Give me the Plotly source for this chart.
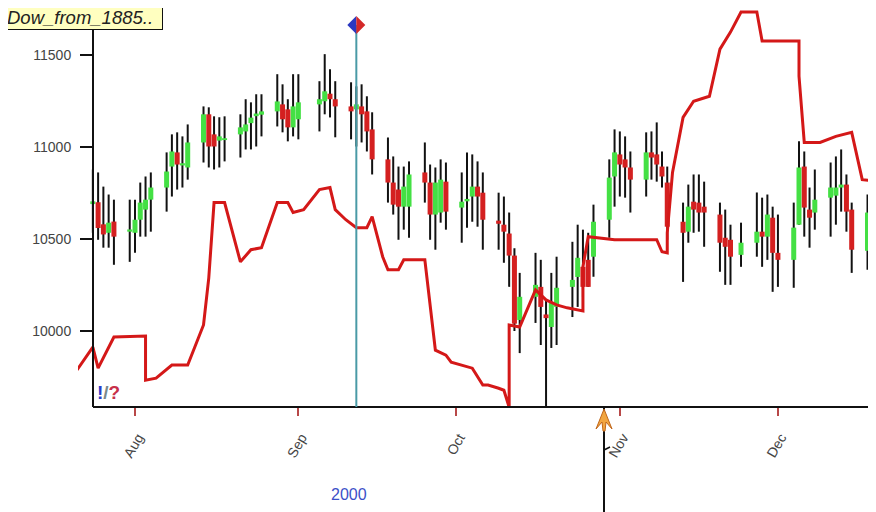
import plotly.graph_objects as go

# ---------------- data ----------------
dates = ["2000-07-24", "2000-07-25", "2000-07-26", "2000-07-27", "2000-07-28", "2000-07-31",
         "2000-08-01", "2000-08-02", "2000-08-03", "2000-08-04", "2000-08-07", "2000-08-08",
         "2000-08-09", "2000-08-10", "2000-08-11", "2000-08-14", "2000-08-15", "2000-08-16",
         "2000-08-17", "2000-08-18", "2000-08-21", "2000-08-22", "2000-08-23", "2000-08-24",
         "2000-08-25", "2000-08-28", "2000-08-29", "2000-08-30", "2000-08-31",
         "2000-09-01", "2000-09-05", "2000-09-06", "2000-09-07", "2000-09-08", "2000-09-11",
         "2000-09-12", "2000-09-13", "2000-09-14", "2000-09-15", "2000-09-18", "2000-09-19",
         "2000-09-20", "2000-09-21", "2000-09-22", "2000-09-25", "2000-09-26", "2000-09-27",
         "2000-09-28", "2000-09-29",
         "2000-10-02", "2000-10-03", "2000-10-04", "2000-10-05", "2000-10-06", "2000-10-09",
         "2000-10-10", "2000-10-11", "2000-10-12", "2000-10-13", "2000-10-16", "2000-10-17",
         "2000-10-18", "2000-10-19", "2000-10-20", "2000-10-23", "2000-10-24", "2000-10-25",
         "2000-10-26", "2000-10-27", "2000-10-30", "2000-10-31",
         "2000-11-01", "2000-11-02", "2000-11-03", "2000-11-06", "2000-11-07", "2000-11-08",
         "2000-11-09", "2000-11-10", "2000-11-13", "2000-11-14", "2000-11-15", "2000-11-16",
         "2000-11-17", "2000-11-20", "2000-11-21", "2000-11-22", "2000-11-24", "2000-11-27",
         "2000-11-28", "2000-11-29", "2000-11-30",
         "2000-12-01", "2000-12-04", "2000-12-05", "2000-12-06", "2000-12-07", "2000-12-08",
         "2000-12-11", "2000-12-12", "2000-12-13", "2000-12-14", "2000-12-15", "2000-12-18",
         "2000-12-19"]

opens = [10690, 10700, 10580, 10534, 10595, 10540,
         10534, 10605, 10660, 10714, 10780, 10894,
         10971, 10900, 10889, 11025, 11178, 11069,
         11035, 11038, 11069, 11085, 11130, 11168,
         11176, 11194, 11232, 11205, 11107,
         11151, 11232, 11249, 11290, 11260, 11221,
         11205, 11221, 11194, 11096, 10933, 10807,
         10769, 10676, 10676, 10862, 10807, 10633,
         10644, 10812,
         10671, 10705, 10731, 10785, 10752, 10600,
         10578, 10530, 10410, 10060, 10186, 10240,
         10090, 10022, 10131, 10240, 10294, 10349,
         10387, 10404, 10605, 10840,
         10960, 10933, 10889, 10823, 10971, 10960,
         10894, 10807, 10594, 10540, 10703, 10698,
         10676, 10633, 10507, 10496, 10414, 10480,
         10540, 10513, 10616,
         10425, 10387, 10578, 10894, 10660, 10644,
         10725, 10736, 10780, 10796, 10660, 10436,
         10644]

highs = [10878, 10862, 10785, 10742, 10714, 10714,
         10714, 10807, 10840, 10862, 10971, 11069,
         11080, 11058, 11123, 11221, 11216, 11167,
         11162, 11167, 11178, 11260, 11243, 11287,
         11287, 11396, 11341, 11260, 11396,
         11396, 11358, 11505, 11423, 11358, 11352,
         11330, 11341, 11276, 11189, 11052, 10949,
         10894, 10894, 10922, 11025, 10905, 10889,
         10933, 10916,
         10862, 10971, 10960, 10922, 10862, 10752,
         10731, 10644, 10450, 10316, 10425, 10387,
         10169, 10316, 10404, 10485, 10578, 10551,
         10534, 10687, 10933, 11096,
         11085, 11058, 10976, 11080, 11085, 11134,
         10976, 10894, 10698, 10796, 10851, 10851,
         10812, 10698, 10660, 10578, 10589, 10753,
         10725, 10742, 10676,
         10633, 10698, 11031, 10976, 10780, 10878,
         10916, 10949, 10987, 10851, 10698, 10742,
         10742]

lows = [10534, 10496, 10453, 10453, 10360, 10376,
        10425, 10513, 10513, 10540, 10649, 10731,
        10769, 10780, 10823, 10916, 10889, 10878,
        10889, 10922, 10943, 10987, 10987, 11003,
        11058, 11112, 11080, 11031, 11058,
        11042, 11085, 11178, 11161, 11053, 11042,
        11003, 11025, 10976, 10851, 10698, 10633,
        10496, 10551, 10507, 10698, 10496, 10442,
        10589, 10551,
        10480, 10562, 10594, 10567, 10442, 10442,
        10371, 10240, 10000, 9880, 10044, 9924,
        9560, 9908, 9924, 10076, 10131, 10186,
        10240, 10295, 10507, 10676,
        10731, 10725, 10644, 10731, 10823, 10812,
        10780, 10496, 10267, 10480, 10534, 10540,
        10458, 10322, 10251, 10251, 10349, 10404,
        10349, 10387, 10213,
        10240, 10235, 10578, 10513, 10453, 10551,
        10513, 10578, 10649, 10540, 10316, 10333,
        10333]

closes = [10705, 10560, 10525, 10589, 10513, 10552,
          10605, 10698, 10714, 10780, 10867, 10976,
          10905, 10912, 11025, 11178, 11003, 11003,
          11058, 11048, 11107, 11123, 11160, 11182,
          11194, 11248, 11151, 11107, 11221,
          11243, 11260, 11303, 11260, 11221, 11194,
          11232, 11178, 11085, 10933, 10807, 10687,
          10676, 10785, 10851, 10807, 10633, 10807,
          10823, 10649,
          10703, 10718, 10785, 10731, 10605, 10583,
          10540, 10410, 10040, 10186, 10251, 10131,
          10070, 10153, 10235, 10278, 10398, 10240,
          10240, 10594, 10834, 10971,
          10905, 10889, 10823, 10971, 10943, 10905,
          10840, 10567, 10534, 10676, 10660, 10644,
          10644, 10480, 10458, 10404, 10480, 10540,
          10513, 10633, 10425,
          10387, 10562, 10889, 10671, 10616, 10714,
          10780, 10780, 10796, 10649, 10442, 10644,
          10442]

line_dates = ["2000-07-21", "2000-07-24", "2000-07-25", "2000-07-28", "2000-08-03", "2000-08-03",
              "2000-08-05", "2000-08-08", "2000-08-11", "2000-08-14", "2000-08-15", "2000-08-16",
              "2000-08-18", "2000-08-21", "2000-08-23", "2000-08-25", "2000-08-28", "2000-08-30",
              "2000-08-31", "2000-09-02", "2000-09-05", "2000-09-07", "2000-09-08", "2000-09-10",
              "2000-09-12", "2000-09-14", "2000-09-15", "2000-09-16", "2000-09-17", "2000-09-18",
              "2000-09-20", "2000-09-21", "2000-09-25", "2000-09-27", "2000-09-29", "2000-09-30",
              "2000-10-04", "2000-10-06", "2000-10-07", "2000-10-09", "2000-10-10", "2000-10-11",
              "2000-10-11", "2000-10-13", "2000-10-16", "2000-10-18", "2000-10-20", "2000-10-22",
              "2000-10-25", "2000-10-25", "2000-10-26", "2000-10-31", "2000-11-08", "2000-11-09",
              "2000-11-10", "2000-11-10", "2000-11-11", "2000-11-13", "2000-11-15", "2000-11-18",
              "2000-11-20", "2000-11-22", "2000-11-24", "2000-11-27", "2000-11-28", "2000-12-05",
              "2000-12-05", "2000-12-06", "2000-12-09", "2000-12-12", "2000-12-15", "2000-12-17",
              "2000-12-20"]
line_values = [9788, 9913, 9798, 9967, 9973, 9733,
               9744, 9815, 9815, 10033, 10289, 10698,
               10698, 10376, 10442, 10453, 10698, 10698,
               10644, 10660, 10769, 10780, 10660, 10605,
               10562, 10562, 10622, 10513, 10404, 10333,
               10333, 10387, 10387, 9896, 9869, 9831,
               9798, 9706, 9706, 9689, 9678, 9586,
               10033, 10022, 10224, 10169, 10142, 10126,
               10109, 10349, 10513, 10496, 10496, 10431,
               10425, 10534, 10862, 11161, 11249, 11276,
               11532, 11625, 11734, 11734, 11576, 11576,
               11385, 11025, 11025, 11058, 11080, 10823,
               10812]

month_ticks = ["2000-08-01", "2000-09-01", "2000-10-01", "2000-11-01", "2000-12-01"]
month_labels = ["Aug", "Sep", "Oct", "Nov", "Dec"]
minor_ticks = ["2000-08-10", "2000-08-20", "2000-09-10", "2000-09-20", "2000-10-10",
               "2000-10-20", "2000-11-10", "2000-11-20", "2000-12-10"]
y_ticks = [10000, 10500, 11000, 11500]
y_tick_labels = ["10000", "10500", "11000", "11500"]

marker_event_date = "2000-09-12"
line_event_date = "2000-10-29"
title_text = "Dow_from_1885.."
year_label = "2000"
year_label_date = "2000-09-10 14:00"

# ---------------- styling ----------------
X_RANGE = ["2000-07-21 04:25", "2000-12-19 14:40"]
Y_RANGE = [9587, 11745]
FONT = "Liberation Sans, Arial, sans-serif"
GREEN = "#44e044"
RED = "#d42020"

wick_x, wick_y = [], []
up_x, up_y, dn_x, dn_y = [], [], [], []
for d, o, h, l, c in zip(dates, opens, highs, lows, closes):
    wick_x += [d, d, None]
    wick_y += [l, h, None]
    if c >= o:
        up_x += [d, d, None]
        up_y += [o, c, None]
    else:
        dn_x += [d, d, None]
        dn_y += [o, c, None]

fig = go.Figure()
fig.add_trace(go.Scatter(x=wick_x, y=wick_y, mode="lines",
                         line=dict(color="#111111", width=2), hoverinfo="skip",
                         showlegend=False))
fig.add_trace(go.Scatter(x=up_x, y=up_y, mode="lines",
                         line=dict(color=GREEN, width=5), showlegend=False))
fig.add_trace(go.Scatter(x=dn_x, y=dn_y, mode="lines",
                         line=dict(color=RED, width=5), showlegend=False))
fig.add_trace(go.Scatter(x=line_dates, y=line_values, mode="lines",
                         line=dict(color="#d41818", width=3), showlegend=False))

left_frac = 15 / 798.0

fig.update_layout(
    width=868, height=504,
    margin=dict(l=70, r=0, t=2, b=105, autoexpand=False),
    paper_bgcolor="white", plot_bgcolor="white",
    showlegend=False,
    font=dict(family=FONT),
    xaxis=dict(type="date", range=X_RANGE, tickvals=month_ticks, ticktext=month_labels,
               ticks="outside", ticklen=8, tickwidth=2, tickcolor="#b84848",
               tickangle=-60, tickfont=dict(size=14, color="#444444", family=FONT),
               ticklabelshift=3, ticklabelstandoff=8, automargin=False,
               showline=False, showgrid=False, zeroline=False, anchor="y"),
    xaxis2=dict(type="date", range=X_RANGE, overlaying="x", anchor="y", side="bottom",
                tickvals=minor_ticks, ticks="outside", ticklen=8, tickwidth=2,
                tickcolor="#111111", showticklabels=False, showline=False,
                showgrid=False, zeroline=False, automargin=False),
    yaxis=dict(range=Y_RANGE, anchor="free", position=left_frac, tickvals=y_ticks,
               ticktext=y_tick_labels, automargin=False,
               ticks="outside", ticklen=12, tickwidth=1.5, tickcolor="#111111",
               showline=True, linecolor="#111111", linewidth=2,
               showgrid=False, zeroline=False, ticklabelstandoff=6,
               tickfont=dict(size=14, color="#444444", family=FONT)),
)

shapes = [
    dict(type="line", xref="paper", yref="paper", x0=left_frac, x1=1, y0=0, y1=0,
         line=dict(color="#111111", width=2)),
    dict(type="line", xref="x", yref="paper", x0=marker_event_date, x1=marker_event_date,
         y0=0, y1=0.962, line=dict(color="#4a9aa6", width=2)),
    dict(type="path", xref="x", yref="paper", xsizemode="pixel", ysizemode="pixel",
         xanchor=marker_event_date, yanchor=0.962, path="M 0 9 L -9 0 L 0 -9 Z",
         fillcolor="#2a38c0", line=dict(width=0)),
    dict(type="path", xref="x", yref="paper", xsizemode="pixel", ysizemode="pixel",
         xanchor=marker_event_date, yanchor=0.962, path="M 0 9 L 9 0 L 0 -9 Z",
         fillcolor="#d42828", line=dict(width=0)),
    dict(type="line", xref="x", yref="paper", x0=line_event_date, x1=line_event_date,
         y0=0, y1=-0.3, line=dict(color="#111111", width=2)),
    dict(type="path", xref="x", yref="paper", xsizemode="pixel", ysizemode="pixel",
         xanchor=line_event_date, yanchor=0, path="M 0 -43 L 6 -40",
         line=dict(color="#111111", width=1.5)),
    dict(type="path", xref="x", yref="paper", xsizemode="pixel", ysizemode="pixel",
         xanchor=line_event_date, yanchor=0,
         path="M 0 -2 L -8 -22 L -2 -15 L -1 -24 L 1 -24 L 2 -15 L 8 -22 Z",
         fillcolor="#f2a640", line=dict(color="#c0661a", width=1)),
]
fig.update_layout(shapes=shapes)

fig.add_annotation(xref="paper", yref="paper", x=(5 - 78) / 798.0, y=(407 - 5) / 397.0,
                   xanchor="left", yanchor="top", showarrow=False,
                   text="<i>" + title_text + "</i>", align="left", width=154,
                   font=dict(size=18.5, color="#222222", family=FONT),
                   bgcolor="#ffffc0", bordercolor="#111111", borderwidth=1, borderpad=1)
fig.add_annotation(xref="paper", yref="paper", x=(95 - 78) / 798.0, y=(407 - 392) / 397.0,
                   xanchor="left", yanchor="middle", showarrow=False,
                   text="<b><span style='color:#2a3cc8'>!</span>"
                        "<span style='color:#7a8a8a'>/</span>"
                        "<span style='color:#c8304a'>?</span></b>",
                   font=dict(size=19, family=FONT))
fig.add_annotation(xref="x", yref="paper", x=year_label_date, y=(407 - 494) / 397.0,
                   xanchor="center", yanchor="middle", showarrow=False,
                   text=year_label, font=dict(size=16, color="#3c50c8", family=FONT))

fig.write_html("out.html")
